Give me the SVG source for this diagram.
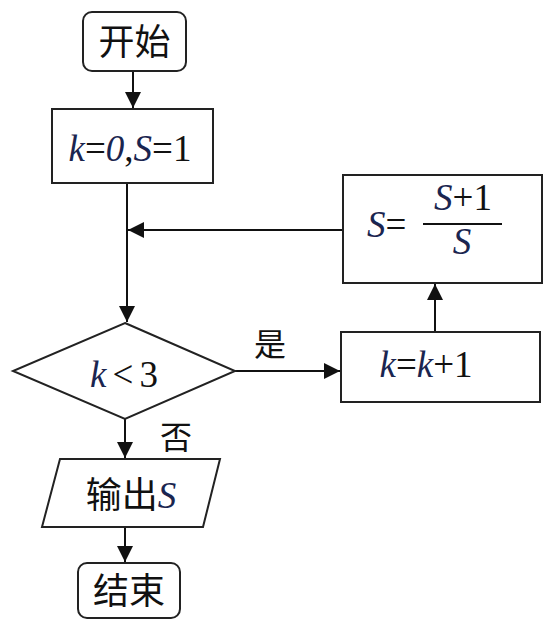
<svg xmlns="http://www.w3.org/2000/svg" width="556" height="629" viewBox="0 0 556 629">
<defs>
<marker id="arr" markerUnits="userSpaceOnUse" markerWidth="16" markerHeight="18" refX="16" refY="8" orient="auto">
<path d="M0,0 L16,8 L0,16 Z" fill="#111"/>
</marker>
<style>
.box{fill:#fff;stroke:#222;stroke-width:2}
.ln{fill:none;stroke:#111;stroke-width:2}
.cjk{font-family:"Liberation Sans","Noto Sans CJK SC",sans-serif;font-size:36px;fill:#111}
.lbl{font-family:"Liberation Sans","Noto Sans CJK SC",sans-serif;font-size:32px;fill:#111}
.m{font-family:"Liberation Serif","Times New Roman",serif;font-size:37px;fill:#111}
.i{font-style:italic;fill:#1a2550}
</style>
</defs>
<rect width="556" height="629" fill="#fff"/>
<g id="connectors">
<path class="ln" d="M133,71 V108" marker-end="url(#arr)"/>
<path class="ln" d="M127,183 V322" marker-end="url(#arr)"/>
<path class="ln" d="M343,230 H128" marker-end="url(#arr)"/>
<path class="ln" d="M235,371 H340" marker-end="url(#arr)"/>
<path class="ln" d="M435,332 V284" marker-end="url(#arr)"/>
<path class="ln" d="M125,419 V458" marker-end="url(#arr)"/>
<path class="ln" d="M125,527 V562" marker-end="url(#arr)"/>
<text class="lbl" x="254" y="356">是</text>
<text class="lbl" x="160" y="449">否</text>
</g>
<g id="start">
<rect class="box" x="83" y="12" width="103" height="59" rx="9"/>
<text class="cjk" x="134.5" y="55" text-anchor="middle">开始</text>
</g>
<g id="init">
<rect class="box" x="52" y="109" width="161" height="74"/>
<text class="m" x="130" y="161" text-anchor="middle"><tspan class="i">k</tspan>=<tspan class="i">0</tspan>,<tspan class="i">S</tspan>=1</text>
</g>
<g id="cond">
<path class="box" d="M125,323 L235,371 L125,419 L13,371 Z"/>
<text class="m" x="124" y="387" text-anchor="middle"><tspan class="i">k</tspan><tspan dx="6">&lt;</tspan><tspan dx="6">3</tspan></text>
</g>
<g id="inc">
<rect class="box" x="341" y="332" width="199" height="70"/>
<text class="m" x="426" y="377" text-anchor="middle"><tspan class="i">k</tspan>=<tspan class="i">k</tspan>+1</text>
</g>
<g id="update">
<rect class="box" x="343" y="175" width="199" height="108"/>
<text class="m" x="367" y="237"><tspan class="i">S</tspan>=</text>
<line x1="423" y1="224" x2="502" y2="224" stroke="#111" stroke-width="2"/>
<text class="m" x="463" y="210" text-anchor="middle"><tspan class="i">S</tspan>+1</text>
<text class="m" x="462" y="254" text-anchor="middle"><tspan class="i">S</tspan></text>
</g>
<g id="output">
<path class="box" d="M60,459 L220,459 L203,527 L42,527 Z"/>
<text class="cjk" x="131" y="508" text-anchor="middle">输出<tspan class="m i">S</tspan></text>
</g>
<g id="end">
<rect class="box" x="78" y="563" width="102" height="55" rx="9"/>
<text class="cjk" x="129" y="604" text-anchor="middle">结束</text>
</g>
</svg>
